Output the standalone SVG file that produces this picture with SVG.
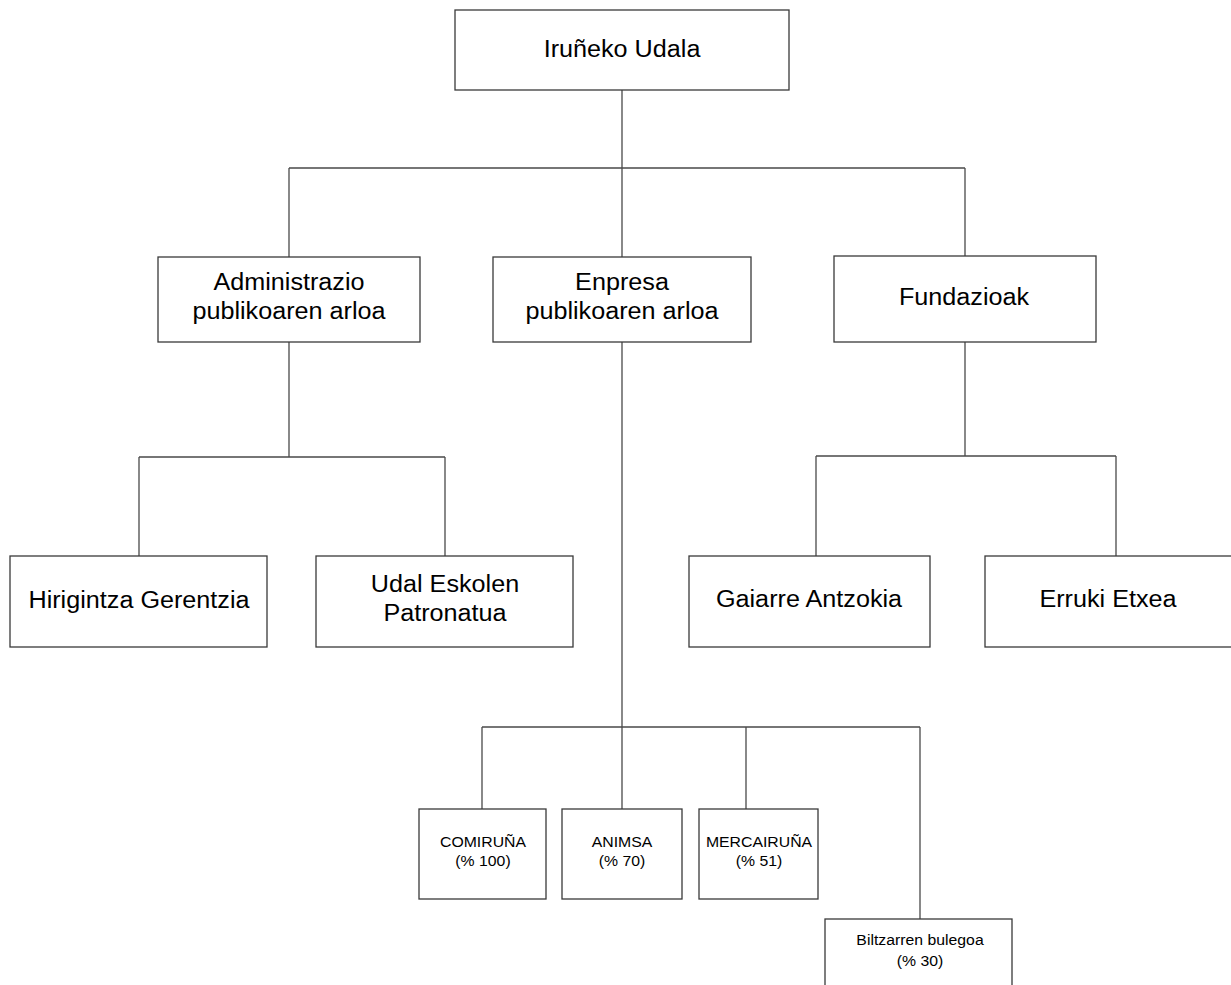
<svg xmlns="http://www.w3.org/2000/svg" width="1231" height="985" viewBox="0 0 1231 985">
<style>
.box{fill:#fff;stroke:#3a3a3a;stroke-width:1.3}
.ln{stroke:#4a4a4a;stroke-width:1.3;fill:none}
.t{font-family:"Liberation Sans",Arial,sans-serif;font-size:23px;fill:#000;text-anchor:middle}
.s{font-family:"Liberation Sans",Arial,sans-serif;font-size:14.5px;fill:#000;text-anchor:middle}
</style>
<rect width="1231" height="985" fill="#fff"/>
<g id="connectors">
<path class="ln" d="M622 90V257M289 168H965M289 168V257M965 168V257"/>
<path class="ln" d="M289 342V457M139 457H445M139 457V556M445 457V556"/>
<path class="ln" d="M965 342V456M816 456H1116M816 456V556M1116 456V556"/>
<path class="ln" d="M622 342V727M482 727H920M482 727V809M622 727V809M746 727V809M920 727V919"/>
</g>
<g id="n-top"><rect class="box" x="455" y="10" width="334" height="80"/>
<g transform="translate(622,57) scale(1.095,1)"><text class="t">Iruñeko Udala</text></g></g>
<g id="n-admin"><rect class="box" x="158" y="257" width="262" height="85"/>
<g transform="translate(289,290) scale(1.095,1)"><text class="t">Administrazio</text></g>
<g transform="translate(289,319) scale(1.095,1)"><text class="t">publikoaren arloa</text></g></g>
<g id="n-enpresa"><rect class="box" x="493" y="257" width="258" height="85"/>
<g transform="translate(622,290) scale(1.095,1)"><text class="t">Enpresa</text></g>
<g transform="translate(622,319) scale(1.095,1)"><text class="t">publikoaren arloa</text></g></g>
<g id="n-fund"><rect class="box" x="834" y="256" width="262" height="86"/>
<g transform="translate(964,305) scale(1.095,1)"><text class="t">Fundazioak</text></g></g>
<g id="n-hirig"><rect class="box" x="10" y="556" width="257" height="91"/>
<g transform="translate(139,608) scale(1.095,1)"><text class="t">Hirigintza Gerentzia</text></g></g>
<g id="n-udal"><rect class="box" x="316" y="556" width="257" height="91"/>
<g transform="translate(445,592) scale(1.095,1)"><text class="t">Udal Eskolen</text></g>
<g transform="translate(445,621) scale(1.095,1)"><text class="t">Patronatua</text></g></g>
<g id="n-gaiarre"><rect class="box" x="689" y="556" width="241" height="91"/>
<g transform="translate(809,607) scale(1.095,1)"><text class="t">Gaiarre Antzokia</text></g></g>
<g id="n-erruki"><rect class="box" x="985" y="556" width="260" height="91"/>
<g transform="translate(1108,607) scale(1.095,1)"><text class="t">Erruki Etxea</text></g></g>
<g id="n-comiruna"><rect class="box" x="419" y="809" width="127" height="90"/>
<g transform="translate(483,847) scale(1.09,1)"><text class="s">COMIRUÑA</text></g>
<g transform="translate(483,866) scale(1.09,1)"><text class="s">(% 100)</text></g></g>
<g id="n-animsa"><rect class="box" x="562" y="809" width="120" height="90"/>
<g transform="translate(622,847) scale(1.09,1)"><text class="s">ANIMSA</text></g>
<g transform="translate(622,866) scale(1.09,1)"><text class="s">(% 70)</text></g></g>
<g id="n-mercairuna"><rect class="box" x="699" y="809" width="119" height="90"/>
<g transform="translate(759,847) scale(1.09,1)"><text class="s">MERCAIRUÑA</text></g>
<g transform="translate(759,866) scale(1.09,1)"><text class="s">(% 51)</text></g></g>
<g id="n-biltzarren"><rect class="box" x="825" y="919" width="187" height="80"/>
<g transform="translate(920,945) scale(1.09,1)"><text class="s">Biltzarren bulegoa</text></g>
<g transform="translate(920,966) scale(1.09,1)"><text class="s">(% 30)</text></g></g>
</svg>
